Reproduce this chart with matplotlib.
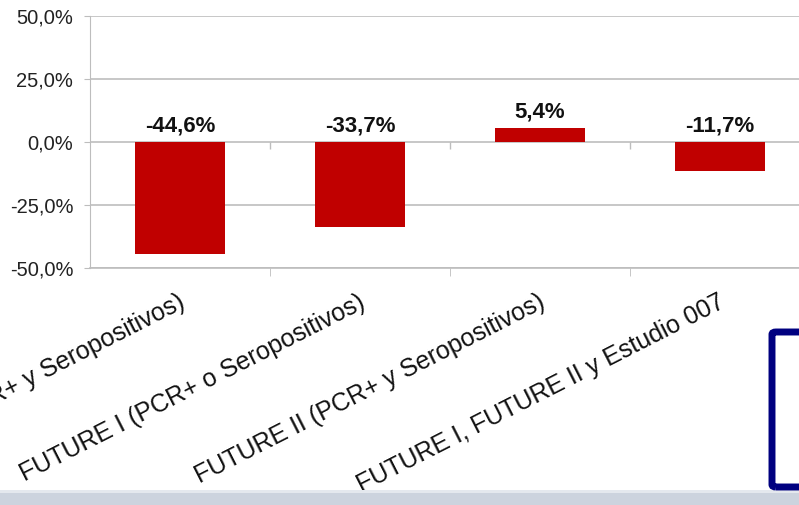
import matplotlib.pyplot as plt
from matplotlib.patches import Rectangle, FancyBboxPatch
from matplotlib.transforms import ScaledTranslation

plt.rcParams['font.family'] = ['Liberation Sans', 'DejaVu Sans']

# data
categories = [
    "FUTURE I (PCR+ y Seropositivos)",
    "FUTURE I (PCR+ o Seropositivos)",
    "FUTURE II (PCR+ y Seropositivos)",
    "FUTURE I, FUTURE II y Estudio 007",
]
values = [-44.6, -33.7, 5.4, -11.7]
yticks = [-50, -25, 0, 25, 50]

bar_color = "#c00000"
grid_color = "#bdbdbd"

fig = plt.figure(figsize=(7.99, 5.05), dpi=100)
fig.patch.set_facecolor("white")

# blurred strip of the slide at the bottom
fig.patches.append(Rectangle((0, 0), 1, 12 / 505, transform=fig.transFigure,
                             facecolor="#ccd3de", edgecolor="none", zorder=0))
fig.patches.append(Rectangle((0, 12 / 505), 1, 3 / 505, transform=fig.transFigure,
                             facecolor="#e4e8ee", edgecolor="none", zorder=0))

ax = fig.add_axes([90 / 799, 1 - 268 / 505, 720 / 799, 252 / 505])
ax.set_facecolor("none")

x = list(range(len(categories)))
ax.bar(x, values, width=0.5, color=bar_color, zorder=3)

for xi, v in zip(x, values):
    ax.annotate(f"{v:.1f}%".replace(".", ","), (xi, max(v, 0)),
                xytext=(0, 4), textcoords="offset points",
                ha="center", va="bottom", fontsize=16, fontweight="bold",
                color="#111111", zorder=4)

ax.set_xlim(-0.5, len(categories) - 0.5)
ax.set_ylim(-50, 50)
ax.set_yticks(yticks)
ax.set_yticklabels([f"{t:.1f}%".replace(".", ",") for t in yticks])
ax.yaxis.grid(True, color=grid_color, linewidth=1.2, zorder=0)
ax.tick_params(axis="y", length=4, color=grid_color, pad=8, labelsize=14.5,
               labelcolor="#222222")

# category boundary ticks on the zero line and at the bottom
bounds = [i + 0.5 for i in x[:-1]]
ax.vlines(bounds, -2.8, 0, color=grid_color, linewidth=1.0, zorder=1)
ax.set_xticks(bounds, minor=True)
ax.tick_params(axis="x", which="minor", length=6, color=grid_color)

ax.set_xticks(x)
ax.set_xticklabels(categories, rotation=27, ha="right", va="top",
                   rotation_mode="anchor", fontsize=18, color="#111111")
ax.tick_params(axis="x", which="major", length=0, pad=16)
offset = ScaledTranslation(-2 / 100, 0, fig.dpi_scale_trans)
for lab in ax.get_xticklabels():
    lab.set_transform(lab.get_transform() + offset)

for side in ["top", "right"]:
    ax.spines[side].set_visible(False)
ax.spines["left"].set_color(grid_color)
ax.spines["bottom"].set_color(grid_color)
ax.spines["bottom"].set_linewidth(1.2)

# navy frame of the slide at the right edge
fig.patches.append(FancyBboxPatch((772 / 799, 1 - 487 / 505), 60 / 799, 155 / 505,
                                  boxstyle="round,pad=0,rounding_size=0.005",
                                  transform=fig.transFigure, facecolor="none",
                                  edgecolor="#000080", linewidth=5, zorder=5))

fig.savefig("out.png", dpi=100)
